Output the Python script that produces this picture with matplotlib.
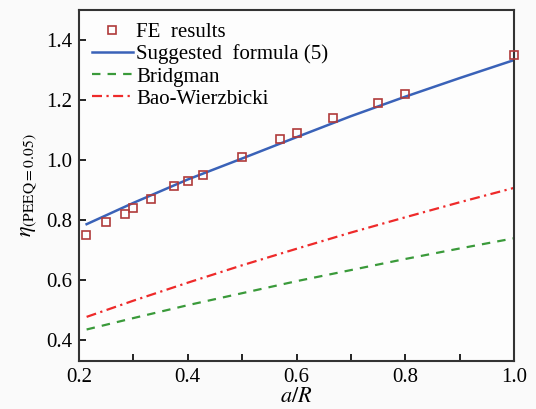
import matplotlib
matplotlib.use('Agg')
import matplotlib.pyplot as plt

plt.rcParams.update({
    'font.family': 'Liberation Serif',
    'mathtext.fontset': 'stix',
    'font.size': 15,
    'axes.linewidth': 1.5,
    'axes.edgecolor': '#333333',
})

# FE results
fe_x = [0.213, 0.25, 0.284, 0.30, 0.332, 0.374, 0.40, 0.428,
        0.50, 0.57, 0.60, 0.667, 0.75, 0.80, 1.0]
fe_y = [0.75, 0.793, 0.82, 0.84, 0.87, 0.913, 0.93, 0.95,
        1.01, 1.07, 1.09, 1.14, 1.19, 1.22, 1.35]

# curves sampled at a/R
curve_x = [0.214, 0.3, 0.4, 0.5, 0.6, 0.7, 0.8, 0.9, 1.0]
suggested_y = [0.786, 0.857, 0.935, 1.005, 1.076, 1.146, 1.211, 1.273, 1.333]
bridgman_y = [0.435, 0.473, 0.516, 0.556, 0.596, 0.633, 0.670, 0.705, 0.739]
bao_y = [0.477, 0.531, 0.591, 0.649, 0.704, 0.758, 0.809, 0.859, 0.907]

fig = plt.figure(figsize=(5.36, 4.09), dpi=100, facecolor='#fafafa')
ax = fig.add_axes([0.1474, 0.1174, 0.8116, 0.8582])
ax.set_facecolor('#fdfdfd')

ax.plot(fe_x, fe_y, linestyle='none', marker='s', markersize=6,
        markerfacecolor='none', markeredgecolor='#b03a3a', markeredgewidth=1.2,
        label='FE  results', clip_on=False, zorder=4)
ax.plot(curve_x, suggested_y, color='#3a62b8', lw=1.8,
        label='Suggested  formula (5)')
ax.plot(curve_x, bridgman_y, color='#3a9a3a', lw=1.6, dashes=(3.8, 3.2),
        label='Bridgman')
ax.plot(curve_x, bao_y, color='#ee2a2a', lw=1.6, dashes=(4.5, 2, 1, 2),
        label='Bao-Wierzbicki')

ax.set_xlim(0.2, 1.0)
ax.set_ylim(0.33, 1.5)
ax.set_xticks([0.2, 0.4, 0.6, 0.8, 1.0])
ax.set_xticks([0.3, 0.5, 0.7, 0.9], minor=True)
ax.set_yticks([0.4, 0.6, 0.8, 1.0, 1.2, 1.4])
ax.set_xticklabels(['0.2', '0.4', '0.6', '0.8', '1.0'])
ax.set_yticklabels(['0.4', '0.6', '0.8', '1.0', '1.2', '1.4'])
ax.tick_params(which='both', direction='in', length=5, width=1.2,
               top=False, right=False, pad=5)

ax.set_xlabel(r'$a/R$', fontsize=16, labelpad=1)
ax.set_ylabel(r'$\eta_{\rm (PEEQ=0.05)}$', fontsize=16, labelpad=6)

ax.legend(loc='upper left', frameon=False, numpoints=1, handlelength=2.0,
          handletextpad=0.15, labelspacing=0.12, borderaxespad=0.2,
          borderpad=0.4, fontsize=15)

fig.savefig('out.png', dpi=100, facecolor=fig.get_facecolor())
